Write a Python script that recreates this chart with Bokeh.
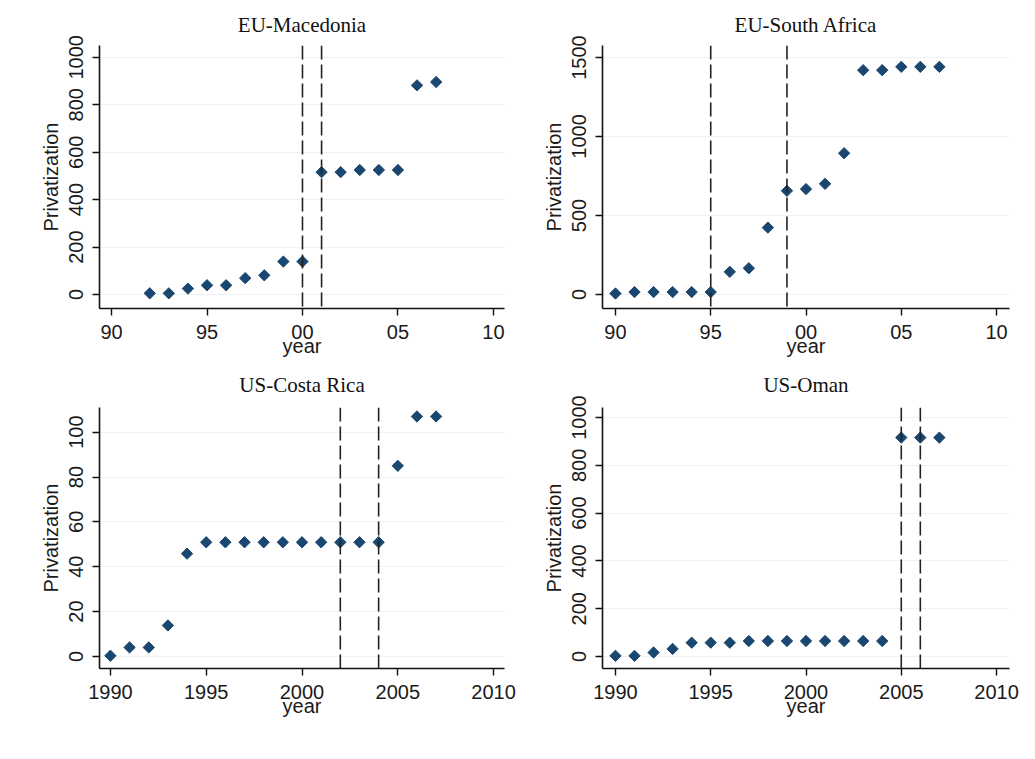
import math
from bokeh.plotting import figure
from bokeh.layouts import column, row
from bokeh.models import Span, FixedTicker, Range1d
from bokeh.embed import file_html
from bokeh.resources import INLINE

# ---- data ----
mk_years = [1992, 1993, 1994, 1995, 1996, 1997, 1998, 1999, 2000, 2001, 2002, 2003, 2004, 2005, 2006, 2007]
mk_vals = [5, 5, 25, 39, 39, 69, 81, 139, 139, 516, 516, 525, 525, 525, 882, 896]
mk_lines = [2000, 2001]

sa_years = [1990, 1991, 1992, 1993, 1994, 1995, 1996, 1997, 1998, 1999, 2000, 2001, 2002, 2003, 2004, 2005, 2006, 2007]
sa_vals = [6, 15, 15, 15, 15, 15, 143, 166, 423, 656, 667, 700, 894, 1420, 1420, 1441, 1441, 1441]
sa_lines = [1995, 1999]

cr_years = [1990, 1991, 1992, 1993, 1994, 1995, 1996, 1997, 1998, 1999, 2000, 2001, 2002, 2003, 2004, 2005, 2006, 2007]
cr_vals = [0.3, 4, 4, 13.8, 45.8, 50.9, 50.9, 50.9, 50.9, 50.9, 50.9, 50.9, 50.9, 50.9, 50.9, 85, 107, 107]
cr_lines = [2002, 2004]

om_years = [1990, 1991, 1992, 1993, 1994, 1995, 1996, 1997, 1998, 1999, 2000, 2001, 2002, 2003, 2004, 2005, 2006, 2007]
om_vals = [3, 3, 17, 32, 58, 58, 58, 65, 65, 65, 65, 65, 65, 65, 65, 916, 916, 916]
om_lines = [2005, 2006]

titles = ["EU-Macedonia", "EU-South Africa", "US-Costa Rica", "US-Oman"]

x_ticks = [1990, 1995, 2000, 2005, 2010]
x_labels_short = ["90", "95", "00", "05", "10"]
x_labels_long = ["1990", "1995", "2000", "2005", "2010"]

y_ticks_mk = [0, 200, 400, 600, 800, 1000]
y_ticks_sa = [0, 500, 1000, 1500]
y_ticks_cr = [0, 20, 40, 60, 80, 100]
y_ticks_om = [0, 200, 400, 600, 800, 1000]

MARK = "#1a476f"
GRID = "#edf1f5"
SANS = "Liberation Sans"
SERIF = "Liberation Serif"


def panel(title, xs, ys, vlines, yticks, xr, yr, xlabels, fw, fh, bl, br, bt, bb, tstand):
    p = figure(frame_width=fw, frame_height=fh, output_backend="svg", toolbar_location=None,
               x_range=Range1d(*xr), y_range=Range1d(*yr),
               min_border_left=bl, min_border_right=br, min_border_top=bt, min_border_bottom=bb,
               title=title)
    p.outline_line_color = None
    p.background_fill_color = "white"
    p.border_fill_color = "white"
    p.title.text_font = SERIF
    p.title.text_font_size = "21px"
    p.title.text_font_style = "normal"
    p.title.align = "center"
    p.title.standoff = tstand
    p.title.text_color = "#111111"

    p.xaxis.ticker = FixedTicker(ticks=x_ticks)
    p.xaxis.major_label_overrides = {t: l for t, l in zip(x_ticks, xlabels)}
    p.yaxis.ticker = FixedTicker(ticks=yticks)
    p.yaxis.major_label_orientation = "vertical"
    p.xaxis.axis_label = "year"
    p.yaxis.axis_label = "Privatization"
    for ax in (p.xaxis, p.yaxis):
        ax.axis_line_color = "#111111"
        ax.axis_line_width = 1.6
        ax.major_tick_line_color = "#111111"
        ax.major_tick_line_width = 1.4
        ax.major_tick_in = 0
        ax.major_tick_out = 7
        ax.minor_tick_line_color = None
        ax.major_label_text_font = SANS
        ax.major_label_text_font_size = "20px"
        ax.major_label_text_color = "#1a1a1a"
        ax.major_label_standoff = 9
        ax.axis_label_text_font = SANS
        ax.axis_label_text_font_size = "20px"
        ax.axis_label_text_font_style = "normal"
        ax.axis_label_text_color = "#1a1a1a"
    p.xaxis.axis_label_standoff = -7
    p.yaxis.axis_label_standoff = 5
    p.xgrid.grid_line_color = None
    p.ygrid.grid_line_color = GRID
    p.ygrid.grid_line_width = 1.2

    for v in vlines:
        p.add_layout(Span(location=v, dimension="height", line_color="#222222",
                          line_width=1.6, line_dash="14 5"))
    p.scatter(xs, ys, marker="square", angle=math.pi / 4, size=8,
              fill_color=MARK, line_color=MARK)
    return p


p1 = panel(titles[0], mk_years, mk_vals, mk_lines, y_ticks_mk,
           (1989.37, 2010.58), (-59, 1050), x_labels_short, 405, 263, 99, 14, 45, 52, 17)
p2 = panel(titles[1], sa_years, sa_vals, sa_lines, y_ticks_sa,
           (1989.32, 2010.68), (-89, 1576), x_labels_short, 407, 263, 84, 18, 45, 52, 17)
p3 = panel(titles[2], cr_years, cr_vals, cr_lines, y_ticks_cr,
           (1989.43, 2010.57), (-5.4, 111), x_labels_long, 405, 261, 99, 14, 47, 60, 21)
p4 = panel(titles[3], om_years, om_vals, om_lines, y_ticks_om,
           (1989.32, 2010.68), (-50, 1042), x_labels_long, 407, 261, 84, 18, 47, 60, 21)

layout = column(row(p1, p2), row(p3, p4))
open("out.html", "w").write(file_html(layout, INLINE))
